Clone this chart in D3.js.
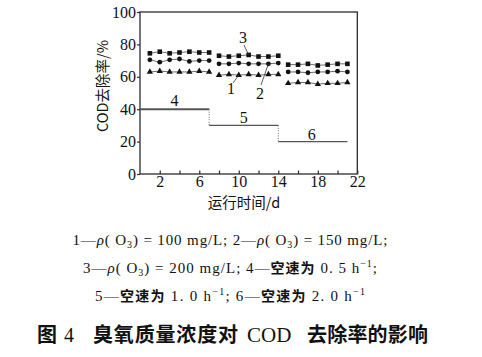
<!DOCTYPE html>
<html><head><meta charset="utf-8">
<script src="https://cdn.jsdelivr.net/npm/d3@7"></script>
<style>body{margin:0;background:#fff}svg{display:block}</style>
</head><body>
<svg id="c" width="482" height="357"></svg>
<script>
const days1 = [1,2,3,4,5,6,7];
const days2 = [8,9,10,11,12,13,14];
const days3 = [15,16,17,18,19,20,21];
// series 1: rho(O3)=100 mg/L (triangles)
const s1 = [63,63.5,63,63,63,63.5,63, 61,61.5,61,61.5,61,61.5,61.5, 56,56.5,56.5,55.5,56,56,56.5];
// series 2: 150 mg/L (circles)
const s2 = [70.5,69,70.5,71,69.5,70,70, 68,68,68.5,68,68,68,68.5, 63,63,62.5,63,63,63.5,63];
// series 3: 200 mg/L (squares)
const s3 = [74.5,75.5,74.5,75,75.5,75,75, 73,72.5,73,73.5,72.5,72.5,73, 67.5,67.5,68,67,67.5,68,68];
// space velocity steps (start day, end day, value)
const stepStart = [0,7,14];
const stepEnd = [7,14,21];
const stepVal = [40,30,20];
const stepLabels = ["4","5","6"];
const xTicks = [2,4,6,8,10,12,14,16,18,20,22];
const xTickLabels = [2,6,10,14,18,22];
const yTicks = [0,20,40,60,80,100];

const svg = d3.select("#c");
const L=140,R=357.3,T=12,B=174;
const x = d3.scaleLinear().domain([0,22]).range([L,R]);
const y = d3.scaleLinear().domain([0,100]).range([B,T]);
const serif = "'Liberation Serif','Times New Roman',serif";
const cjk = "'Noto Sans CJK SC',sans-serif";
const ink = "#2b2b2b";

// box
svg.append("rect").attr("x",L).attr("y",T).attr("width",R-L).attr("height",B-T)
  .attr("fill","none").attr("stroke",ink).attr("stroke-width",1.3);

// x axis
const xa = svg.append("g").attr("transform",`translate(0,${B})`)
  .call(d3.axisBottom(x).tickValues(xTicks).tickSizeInner(-3.5).tickSizeOuter(0)
    .tickPadding(2).tickFormat(d=>xTickLabels.includes(d)?d:""));
xa.select(".domain").remove();
xa.selectAll("line").attr("stroke",ink).attr("stroke-width",1.2);
xa.selectAll("text").attr("font-family",serif).attr("font-size",16).attr("fill","#111");

// y axis
const ya = svg.append("g").attr("transform",`translate(${L},0)`)
  .call(d3.axisLeft(y).tickValues(yTicks).tickSizeInner(3).tickSizeOuter(0).tickPadding(1));
ya.select(".domain").remove();
ya.selectAll("line").attr("stroke",ink).attr("stroke-width",1.2);
ya.selectAll("text").attr("font-family",serif).attr("font-size",16).attr("fill","#111");

// axis titles
svg.append("text").attr("x",244).attr("y",208).attr("text-anchor","middle")
  .attr("font-family",cjk).attr("font-size",14.5).attr("fill","#111").text("运行时间/d");
svg.append("text").attr("transform","translate(108,86) rotate(-90)").attr("text-anchor","middle")
  .attr("font-family",cjk).attr("font-size",14.5).attr("fill","#111").text("COD去除率/%");

// step lines
const stepW=[2,1.3,1.1];
stepVal.forEach((v,i)=>{
  svg.append("line").attr("x1",x(stepStart[i])).attr("x2",x(stepEnd[i]))
    .attr("y1",y(v)).attr("y2",y(v)).attr("stroke","#555").attr("stroke-width",stepW[i]);
  if(i<stepVal.length-1){
    svg.append("line").attr("x1",x(stepEnd[i])).attr("x2",x(stepEnd[i]))
      .attr("y1",y(v)).attr("y2",y(stepVal[i+1])).attr("stroke","#666")
      .attr("stroke-width",1).attr("stroke-dasharray","1,1.5");
  }
});
const stepLabX=[3.5,10.5,17.4], stepLabDy=[-3,-2.5,-1.8];
stepLabels.forEach((t,i)=>{
  svg.append("text").attr("x",x(stepLabX[i])).attr("y",y(stepVal[i])+stepLabDy[i])
    .attr("text-anchor","middle").attr("font-family",serif).attr("font-size",16).attr("fill","#111").text(t);
});

// series
const segs=[days1,days2,days3];
const allDays = days1.concat(days2,days3);
const line = d3.line().x(d=>x(d[0])).y(d=>y(d[1]));
[s1,s2,s3].forEach(s=>{
  let k=0;
  segs.forEach(seg=>{
    const pts = seg.map((d,j)=>[d,s[k+j]]);
    k+=seg.length;
    svg.append("path").attr("d",line(pts)).attr("fill","none").attr("stroke","#444").attr("stroke-width",0.8);
  });
});
const tri = d3.symbol().type(d3.symbolTriangle).size(17);
svg.append("g").selectAll("path").data(s1).join("path")
  .attr("d",tri).attr("transform",(d,i)=>`translate(${x(allDays[i])},${y(d)})`).attr("fill","#111");
svg.append("g").selectAll("circle").data(s2).join("circle")
  .attr("cx",(d,i)=>x(allDays[i])).attr("cy",d=>y(d)).attr("r",2.4).attr("fill","#111");
svg.append("g").selectAll("rect").data(s3).join("rect")
  .attr("x",(d,i)=>x(allDays[i])-2.3).attr("y",d=>y(d)-2.3).attr("width",4.6).attr("height",4.6).attr("fill","#111");

// series annotations
function ann(t,tx,ty,x1,y1,dx,dv){
  svg.append("line").attr("x1",x1).attr("y1",y1).attr("x2",x(dx)).attr("y2",y(dv))
    .attr("stroke","#333").attr("stroke-width",0.8);
  svg.append("text").attr("x",tx).attr("y",ty).attr("text-anchor","middle")
    .attr("font-family",serif).attr("font-size",16).attr("fill","#111").text(t);
}
ann("3",243,43,244,45,11,s3[10]);
ann("1",231,94,233,83,10,s1[9]);
ann("2",260,99,261,85,13,s2[12]);

// caption
function cap(yb,len,parts){
  const t=svg.append("text").attr("x",230).attr("y",yb).attr("text-anchor","middle")
    .attr("font-family",serif).attr("font-size",15).attr("fill","#111")
    .attr("textLength",len).attr("lengthAdjust","spacing");
  parts.forEach(p=>{
    const s=t.append("tspan").text(p.t);
    if(p.i) s.attr("font-style","italic");
    if(p.sub) s.attr("font-size",10).attr("dy",3);
    if(p.back) s.attr("dy",-3);
    if(p.sup) s.attr("font-size",10).attr("dy",-6);
    if(p.supback) s.attr("dy",6);
    if(p.c) s.attr("font-family",cjk).attr("font-weight","bold").attr("font-size",14);
  });
}
cap(245,315,[{t:"1—"},{t:"ρ",i:1},{t:"( O"},{t:"3",sub:1},{t:") = 100 mg/L; 2—",back:1},{t:"ρ",i:1},{t:"( O"},{t:"3",sub:1},{t:") = 150 mg/L;",back:1}]);
cap(273,294,[{t:"3—"},{t:"ρ",i:1},{t:"( O"},{t:"3",sub:1},{t:") = 200 mg/L; 4—",back:1},{t:"空速为",c:1},{t:" 0. 5 h"},{t:"−1",sup:1},{t:";",supback:1}]);
cap(301,270,[{t:"5—"},{t:"空速为",c:1},{t:" 1. 0 h"},{t:"−1",sup:1},{t:"; 6—",supback:1},{t:"空速为",c:1},{t:" 2. 0 h"},{t:"−1",sup:1}]);

// title
const tt = svg.append("g").attr("font-weight","bold").attr("fill","#111");
tt.append("text").attr("x",37).attr("y",342).attr("font-family",cjk).attr("font-size",20).text("图");
tt.append("text").attr("x",64).attr("y",342).attr("font-family",serif).attr("font-size",20).attr("font-weight","normal").text("4");
tt.append("text").attr("x",93).attr("y",342).attr("font-family",cjk).attr("font-size",20)
  .attr("textLength",145).attr("lengthAdjust","spacing").text("臭氧质量浓度对");
tt.append("text").attr("x",247).attr("y",342).attr("font-family",serif).attr("font-size",21).attr("font-weight","normal").text("COD");
tt.append("text").attr("x",307).attr("y",342).attr("font-family",cjk).attr("font-size",20)
  .attr("textLength",121).attr("lengthAdjust","spacing").text("去除率的影响");
</script>
</body></html>
